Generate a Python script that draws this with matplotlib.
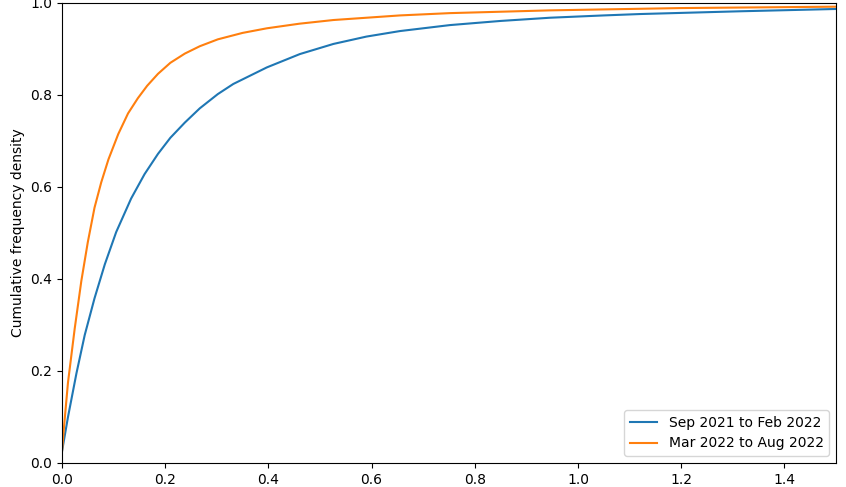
import matplotlib
matplotlib.use("Agg")
import matplotlib.pyplot as plt

# Data (cumulative frequency curves)
sep_x = [0.0, 0.0116, 0.028, 0.044, 0.063, 0.083, 0.105, 0.134, 0.16, 0.186, 0.21, 0.238, 0.267,
         0.302, 0.332, 0.397, 0.461, 0.526, 0.59, 0.655, 0.752, 0.85, 0.946, 1.05, 1.12, 1.314, 1.5]
sep_y = [0.025, 0.10, 0.195, 0.278, 0.358, 0.432, 0.502, 0.575, 0.628, 0.672, 0.707, 0.740, 0.771,
         0.802, 0.824, 0.860, 0.889, 0.911, 0.927, 0.939, 0.952, 0.961, 0.968, 0.973, 0.976, 0.982, 0.987]

mar_x = [0.0, 0.004, 0.0116, 0.0246, 0.0375, 0.05, 0.063, 0.076, 0.09, 0.109, 0.128, 0.147, 0.165,
         0.186, 0.21, 0.238, 0.267, 0.302, 0.35, 0.397, 0.46, 0.526, 0.655, 0.752, 0.946, 1.2, 1.5]
mar_y = [0.025, 0.08, 0.175, 0.292, 0.396, 0.48, 0.555, 0.61, 0.66, 0.715, 0.76, 0.793, 0.82,
         0.846, 0.870, 0.890, 0.906, 0.921, 0.935, 0.945, 0.955, 0.963, 0.973, 0.978, 0.984, 0.989, 0.992]

labels = ["Sep 2021 to Feb 2022", "Mar 2022 to Aug 2022"]

fig = plt.figure(figsize=(8.46, 4.87), dpi=100)
ax = fig.add_axes([62/846, 24/487, (836-62)/846, (463-3)/487])
ax.plot(sep_x, sep_y, color="#1f77b4", lw=1.5, label=labels[0])
ax.plot(mar_x, mar_y, color="#ff7f0e", lw=1.5, label=labels[1])
ax.set_xlim(0, 1.5)
ax.set_ylim(0, 1.0)
ax.set_ylabel("Cumulative frequency density")
ax.legend(loc="lower right")
fig.savefig("out.png", dpi=100)
